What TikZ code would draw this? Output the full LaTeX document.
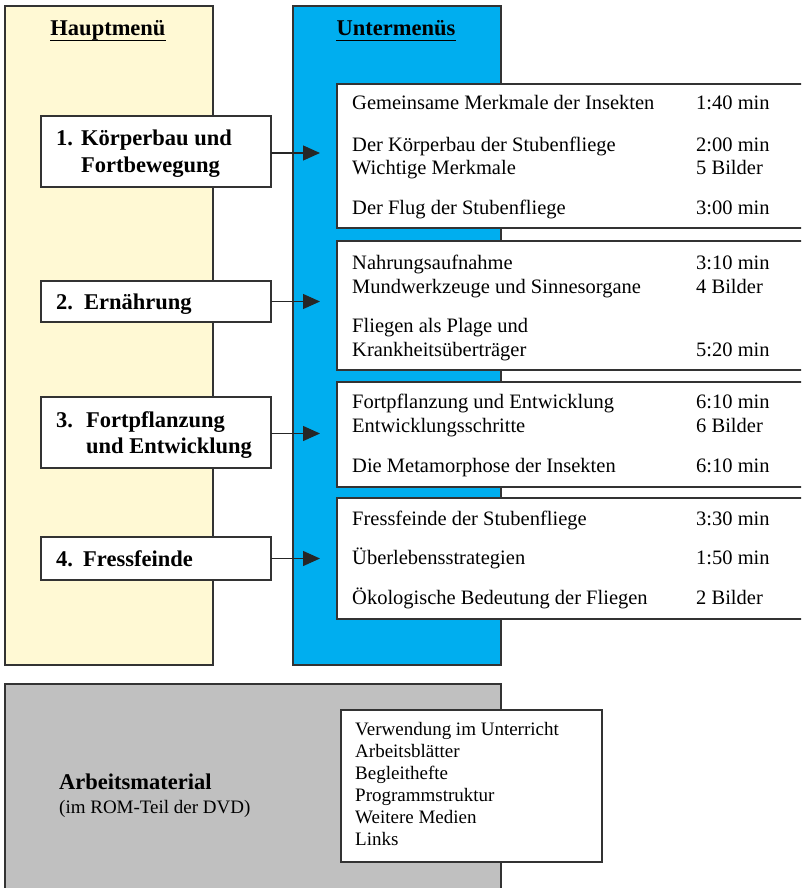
\documentclass[tikz,border=0pt]{standalone}
\usepackage{fontspec}
\setmainfont{Liberation Serif}
\usetikzlibrary{arrows.meta,calc}
\definecolor{creamy}{HTML}{FFF9D4}
\definecolor{cyanbox}{HTML}{00AEEF}
\definecolor{grayarea}{HTML}{C0C0C0}
\definecolor{edge}{HTML}{333333}
\tikzset{
  panel/.style={draw=edge, line width=1.3pt},
  menubox/.style={draw=edge, line width=1.3pt, fill=white},
  subbox/.style={draw=edge, line width=1.3pt, fill=white},
  head/.style={anchor=base, inner sep=0pt, font=\fontsize{22.5}{26}\selectfont\bfseries},
  mtxt/.style={anchor=base west, inner sep=0pt, font=\fontsize{22.5}{26}\selectfont\bfseries},
  stxt/.style={anchor=base west, inner sep=0pt, font=\fontsize{20.5}{24}\selectfont},
  ltxt/.style={anchor=base west, inner sep=0pt, font=\fontsize{19}{22}\selectfont},
  arr/.style={line width=1.3pt, draw=black!85, -{Triangle[length=17pt,width=15pt]}},
}
\begin{document}
\begin{tikzpicture}[x=1pt,y=-1pt]
\useasboundingbox (0,0) rectangle (801,888);
\clip (0,0) rectangle (801,888);
\fill[white] (0,0) rectangle (801,888);
% panels
\draw[panel, fill=creamy] (5,6) rectangle (213,665);
\draw[panel, fill=cyanbox] (293,6) rectangle (501,665);
\draw[panel, fill=grayarea] (5,684) rectangle (501,900);
% headings
\node[head] (hm) at (108,36) {Hauptmenü};
\draw[line width=1.6pt] ($(hm.base west)+(0,4.5)$) -- ($(hm.base east)+(0,4.5)$);
\node[head] (um) at (396,36) {Untermenüs};
\draw[line width=1.6pt] ($(um.base west)+(0,4.5)$) -- ($(um.base east)+(0,4.5)$);
% main menu boxes
\path[menubox] (41,116) rectangle (271,187); \coordinate (b1e) at (271,153);
\path[menubox] (41,281) rectangle (271,322); \coordinate (b2e) at (271,301.5);
\path[menubox] (41,397) rectangle (271,468); \coordinate (b3e) at (271,433.5);
\path[menubox] (41,537) rectangle (271,580); \coordinate (b4e) at (271,558.5);
\node[mtxt] (n1) at (56,146) {1.};
\node[mtxt] (k1) at (81,146) {Körperbau und};
\node[mtxt] (k1b) at (81,172) {Fortbewegung};
\node[mtxt] (n2) at (56,309) {2.};
\node[mtxt] (k2) at (84,309) {Ernährung};
\node[mtxt] (n3) at (56,427) {3.};
\node[mtxt] (k3) at (86,427) {Fortpflanzung};
\node[mtxt] (k3b) at (86,453) {und Entwicklung};
\node[mtxt] (n4) at (56,566) {4.};
\node[mtxt] (k4) at (83,566) {Fressfeinde};
% submenu boxes
\path[subbox] (337,84) rectangle (812,228);
\path[subbox] (337,241) rectangle (812,370);
\path[subbox] (337,382) rectangle (812,487);
\path[subbox] (337,498) rectangle (812,619);
% arrows
\coordinate (t1) at (320,153);
\coordinate (t2) at (320,301.5);
\coordinate (t3) at (320,433.5);
\coordinate (t4) at (320,558.5);
\draw[arr] (b1e) -- (t1);
\draw[arr] (b2e) -- (t2);
\draw[arr] (b3e) -- (t3);
\draw[arr] (b4e) -- (t4);
% submenu texts
\node[stxt] (s11) at (352,110) {Gemeinsame Merkmale der Insekten};
\node[stxt] (r11) at (696,110) {1:40 min};
\node[stxt] (s12) at (352,151) {Der Körperbau der Stubenfliege};
\node[stxt] (r12) at (696,151) {2:00 min};
\node[stxt] (s13) at (352,174) {Wichtige Merkmale};
\node[stxt] (r13) at (696,174) {5 Bilder};
\node[stxt] (s14) at (352,214) {Der Flug der Stubenfliege};
\node[stxt] (r14) at (696,214) {3:00 min};
\node[stxt] (s21) at (352,269) {Nahrungsaufnahme};
\node[stxt] (r21) at (696,269) {3:10 min};
\node[stxt] (s22) at (352,293) {Mundwerkzeuge und Sinnesorgane};
\node[stxt] (r22) at (696,293) {4 Bilder};
\node[stxt] (s23) at (352,332) {Fliegen als Plage und};
\node[stxt] (s24) at (352,356) {Krankheitsüberträger};
\node[stxt] (r24) at (696,356) {5:20 min};
\node[stxt] (s31) at (352,408) {Fortpflanzung und Entwicklung};
\node[stxt] (r31) at (696,408) {6:10 min};
\node[stxt] (s32) at (352,432) {Entwicklungsschritte};
\node[stxt] (r32) at (696,432) {6 Bilder};
\node[stxt] (s33) at (352,472) {Die Metamorphose der Insekten};
\node[stxt] (r33) at (696,472) {6:10 min};
\node[stxt] (s41) at (352,525) {Fressfeinde der Stubenfliege};
\node[stxt] (r41) at (696,525) {3:30 min};
\node[stxt] (s42) at (352,564) {Überlebensstrategien};
\node[stxt] (r42) at (696,564) {1:50 min};
\node[stxt] (s43) at (352,604) {Ökologische Bedeutung der Fliegen};
\node[stxt] (r43) at (696,604) {2 Bilder};
% Arbeitsmaterial
\node[anchor=base west, inner sep=0pt, font=\fontsize{22.5}{26}\selectfont\bfseries] (am) at (59,789) {Arbeitsmaterial};
\node[ltxt] (amsub) at (59,813) {(im ROM-Teil der DVD)};
\path[subbox] (341,710) rectangle (602,862);
\node[ltxt] (l1) at (355,735) {Verwendung im Unterricht};
\node[ltxt] (l2) at (355,757) {Arbeitsblätter};
\node[ltxt] (l3) at (355,779) {Begleithefte};
\node[ltxt] (l4) at (355,801) {Programmstruktur};
\node[ltxt] (l5) at (355,823) {Weitere Medien};
\node[ltxt] (l6) at (355,845) {Links};
\end{tikzpicture}
\end{document}
